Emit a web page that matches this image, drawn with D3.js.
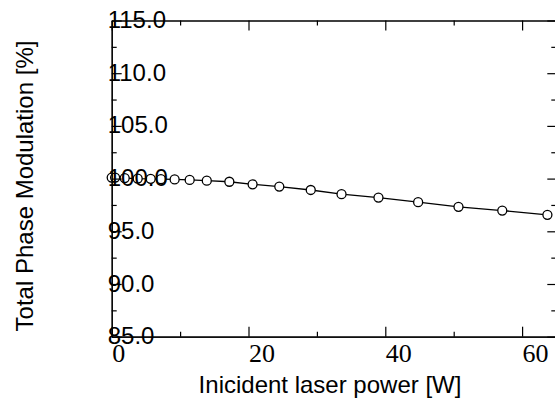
<!DOCTYPE html>
<html>
<head>
<meta charset="utf-8">
<script src="https://cdn.jsdelivr.net/npm/d3@7"></script>
<style>
  body { margin: 0; background: #fff; }
  svg { display: block; }
</style>
</head>
<body>
<svg id="chart"></svg>
<script>
'use strict';

const WIDTH = 555;
const HEIGHT = 401;
const LEFT = 111.7;
const TOP = 20.5;
const BOTTOM = 336.7;
const RIGHT = 556.3;

// incident laser power [W]
const power = [0, 0.5, 1.9, 3.8, 5.7, 7.2, 9.2, 11.4, 13.9, 17.2, 20.6, 24.5, 29.1, 33.6, 39.0, 44.8, 50.7, 57.1, 63.7];
// total phase modulation [%]
const modulation = [100.1, 100.1, 100.05, 100.0, 99.98, 99.95, 99.92, 99.87, 99.8, 99.7, 99.46, 99.24, 98.92, 98.52, 98.2, 97.76, 97.32, 96.97, 96.56];

const xMajor = [0, 20, 40, 60];
const xMinor = [10, 30, 50];
const xTickLabels = ["0", "20", "40", "60"];
const yMajor = [85, 90, 95, 100, 105, 110, 115];
const yMinor = [87.5, 92.5, 97.5, 102.5, 107.5, 112.5];
const yTickLabels = ["85.0", "90.0", "95.0", "100.0", "105.0", "110.0", "115.0"];

const svg = d3.select("svg#chart")
              .attr("width", WIDTH)
              .attr("height", HEIGHT);

const xScale = d3.scaleLinear().domain([0, 65]).range([LEFT, RIGHT]);
const yScale = d3.scaleLinear().domain([85, 115]).range([BOTTOM, TOP]);

const data = power.map((p, i) => ({x: p, y: modulation[i]}));

// data line + markers
svg.append("path")
   .datum(data)
   .attr("fill", "none")
   .attr("stroke", "#000")
   .attr("stroke-width", 1.3)
   .attr("d", d3.line().x(d => xScale(d.x)).y(d => yScale(d.y)));

svg.append("g")
   .selectAll("circle")
   .data(data)
   .enter()
   .append("circle")
   .attr("cx", d => xScale(d.x))
   .attr("cy", d => yScale(d.y))
   .attr("r", 4.5)
   .attr("fill", "#fff")
   .attr("stroke", "#000")
   .attr("stroke-width", 1.3);

// axes: ticks point inward on all four sides
const addAxis = (axis, tx, ty) => {
    const g = svg.append("g")
                 .attr("transform", "translate(" + tx + "," + ty + ")")
                 .call(axis);
    g.selectAll("path.domain").attr("stroke", "#000").attr("stroke-width", 1.2);
    g.selectAll(".tick line").attr("stroke", "#000").attr("stroke-width", 1.2);
    return g;
};

const noText = () => "";

addAxis(d3.axisBottom(xScale).tickValues(xMinor).tickSizeInner(-5).tickSizeOuter(0).tickFormat(noText), 0, BOTTOM);
addAxis(d3.axisTop(xScale).tickValues(xMajor).tickSizeInner(-10).tickSizeOuter(0).tickFormat(noText), 0, TOP);
addAxis(d3.axisTop(xScale).tickValues(xMinor).tickSizeInner(-5).tickSizeOuter(0).tickFormat(noText), 0, TOP);
addAxis(d3.axisLeft(yScale).tickValues(yMinor).tickSizeInner(-5).tickSizeOuter(0).tickFormat(noText), LEFT, 0);
addAxis(d3.axisRight(yScale).tickValues(yMajor).tickSizeInner(-9).tickSizeOuter(0).tickFormat(noText), RIGHT, 0);
addAxis(d3.axisRight(yScale).tickValues(yMinor).tickSizeInner(-5).tickSizeOuter(0).tickFormat(noText), RIGHT, 0);

const xAxis = addAxis(d3.axisBottom(xScale)
                        .tickValues(xMajor)
                        .tickSizeInner(-10)
                        .tickSizeOuter(0)
                        .tickPadding(0)
                        .tickFormat((d, i) => xTickLabels[i]), 0, BOTTOM);
xAxis.selectAll(".tick text")
     .attr("x", 0)
     .attr("y", 25)
     .attr("dy", null)
     .attr("text-anchor", "start")
     .attr("fill", "#000")
     .style("font-family", "'Liberation Serif', 'Times New Roman', serif")
     .style("font-size", "26px");

const yAxis = addAxis(d3.axisLeft(yScale)
                        .tickValues(yMajor)
                        .tickSizeInner(-10)
                        .tickSizeOuter(0)
                        .tickFormat((d, i) => yTickLabels[i]), LEFT, 0);
yAxis.selectAll(".tick text")
     .attr("x", -4)
     .attr("dy", null)
     .attr("y", 7)
     .attr("text-anchor", "start")
     .attr("fill", "#000")
     .style("font-family", "'Liberation Sans', Arial, sans-serif")
     .style("font-size", "24px");

// axis titles
svg.append("text")
   .attr("x", 330)
   .attr("y", 393)
   .attr("text-anchor", "middle")
   .style("font-family", "'Liberation Sans', Arial, sans-serif")
   .style("font-size", "24px")
   .text("Inicident laser power [W]");

svg.append("text")
   .attr("transform", "translate(33,186) rotate(-90)")
   .attr("text-anchor", "middle")
   .style("font-family", "'Liberation Sans', Arial, sans-serif")
   .style("font-size", "24px")
   .text("Total Phase Modulation [%]");
</script>
</body>
</html>
